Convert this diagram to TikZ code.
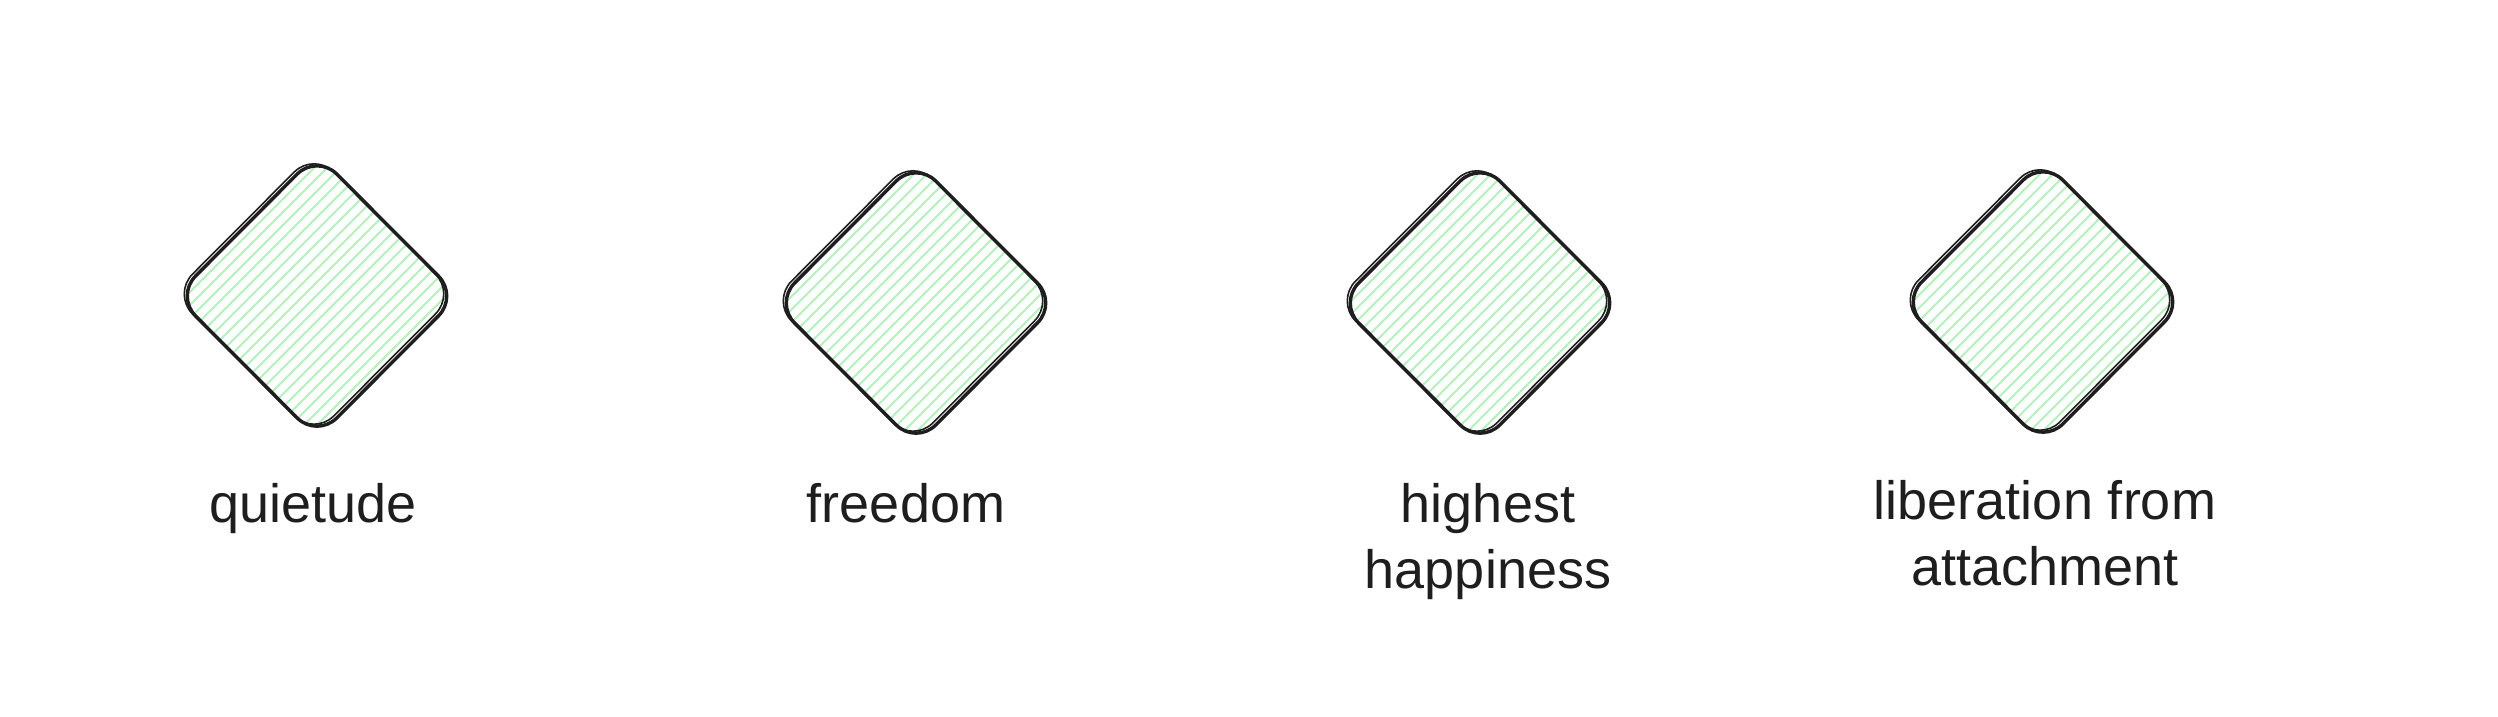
\documentclass[tikz,border=0pt]{standalone}
\usepackage{fontspec}
\setmainfont{Liberation Sans}
\usetikzlibrary{shapes.geometric}
\definecolor{ink}{HTML}{1E1E1E}
\definecolor{hatch}{HTML}{B2F2BB}
\begin{document}
\begin{tikzpicture}[x=1pt,y=-1pt,
  gem/.style={diamond, minimum width=284pt, minimum height=285pt, inner sep=0pt,
    rounded corners=28pt, draw=ink, line width=3.4pt, line join=round,
    path picture={
      \foreach \d in {-300,-287,...,300}{
        \draw[hatch, line width=2pt]
          ([xshift=\d pt-160pt, yshift=-160pt]path picture bounding box.center) --
          ([xshift=\d pt+160pt, yshift=160pt]path picture bounding box.center);
      }
    },
    postaction={draw=ink, line width=1.6pt, transform canvas={shift={(-3pt,2pt)}}}},
  lbl/.style={anchor=base, align=center, text=ink, font=\fontsize{54}{66}\selectfont, inner sep=0pt}]
\useasboundingbox (0,0) rectangle (2498,716);
\node[gem] (d1) at (317,296) {};
\node[gem] (d2) at (916,303) {};
\node[gem] (d3) at (1480,303) {};
\node[gem] (d4) at (2043,302) {};
\node[lbl] (t1) at (313,522) {quietude};
\node[lbl] (t2) at (906,522) {freedom};
\node[lbl] (t3) at (1488,588) {highest\\happiness};
\node[lbl] (t4) at (2045,585) {liberation from\\attachment};
\end{tikzpicture}
\end{document}
